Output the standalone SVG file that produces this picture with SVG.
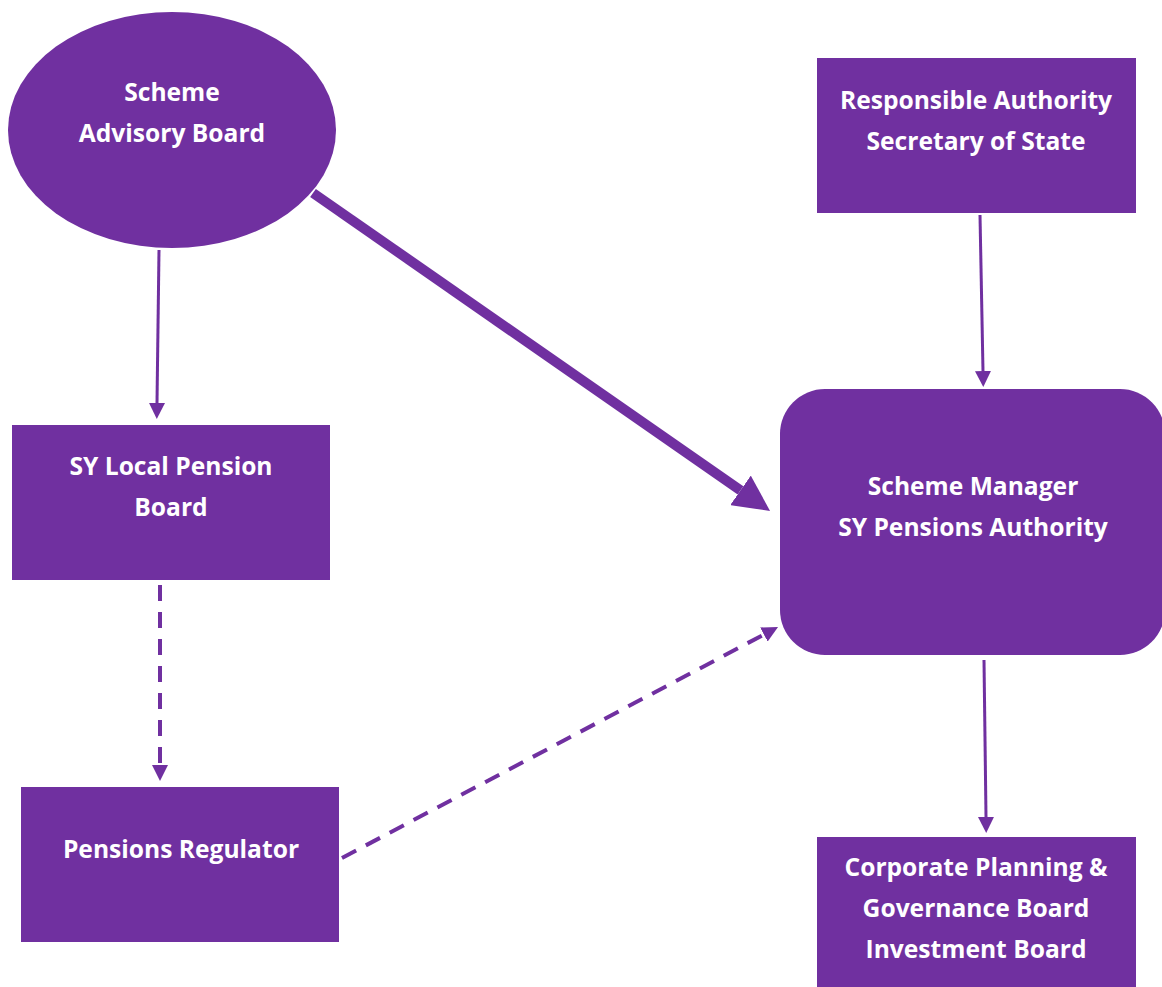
<svg xmlns="http://www.w3.org/2000/svg" width="1162" height="987" viewBox="0 0 1162 987">
<defs>
<style>
.n{fill:#7030A0}
.t{fill:#fff;font-family:"Open Sans","Liberation Sans",sans-serif;font-weight:bold;font-size:24.6px;text-anchor:middle}
.c{stroke:#7030A0;fill:none;stroke-width:3}
.d{stroke-dasharray:16 11;stroke-width:4}
.thick{stroke-width:10}
</style>
<marker id="ah" viewBox="0 0 10 10" refX="0" refY="5" markerWidth="16" markerHeight="16" markerUnits="userSpaceOnUse" orient="auto">
<path d="M0,0 L10,5 L0,10 z" fill="#7030A0"/>
</marker>
<marker id="ahb" viewBox="0 0 10 10" refX="0" refY="5" markerWidth="36" markerHeight="36" markerUnits="userSpaceOnUse" orient="auto">
<path d="M0,0 L10,5 L0,10 z" fill="#7030A0"/>
</marker>
</defs>
<rect width="1162" height="987" fill="#fff"/>
<g id="connectors">
<line class="c" x1="159" y1="250" x2="157" y2="403" marker-end="url(#ah)"/>
<line class="c thick" x1="313" y1="193" x2="740.5" y2="490.4" marker-end="url(#ahb)"/>
<line class="c" x1="980" y1="215" x2="983" y2="371" marker-end="url(#ah)"/>
<line class="c" x1="984" y1="660" x2="986" y2="817" marker-end="url(#ah)"/>
<line class="c d" x1="160" y1="585" x2="160" y2="765" marker-end="url(#ah)"/>
<line class="c d" x1="342" y1="858" x2="763.9" y2="634.5" marker-end="url(#ah)"/>
</g>
<g id="scheme-advisory-board">
<ellipse class="n" cx="172" cy="130" rx="164" ry="118"/>
<text class="t" x="172" y="101">Scheme</text>
<text class="t" x="172" y="142">Advisory Board</text>
</g>
<g id="responsible-authority">
<rect class="n" x="817" y="58" width="319" height="155"/>
<text class="t" x="976" y="109">Responsible Authority</text>
<text class="t" x="976" y="150">Secretary of State</text>
</g>
<g id="local-pension-board">
<rect class="n" x="12" y="425" width="318" height="155"/>
<text class="t" x="171" y="475">SY Local Pension</text>
<text class="t" x="171" y="516">Board</text>
</g>
<g id="scheme-manager">
<rect class="n" x="780" y="389" width="385" height="266" rx="45"/>
<text class="t" x="973" y="495">Scheme Manager</text>
<text class="t" x="973" y="536">SY Pensions Authority</text>
</g>
<g id="pensions-regulator">
<rect class="n" x="21" y="787" width="318" height="155"/>
<text class="t" x="181" y="858">Pensions Regulator</text>
</g>
<g id="corporate-planning">
<rect class="n" x="817" y="837" width="319" height="152"/>
<text class="t" x="976" y="876">Corporate Planning &amp;</text>
<text class="t" x="976" y="917">Governance Board</text>
<text class="t" x="976" y="958">Investment Board</text>
</g>
</svg>
